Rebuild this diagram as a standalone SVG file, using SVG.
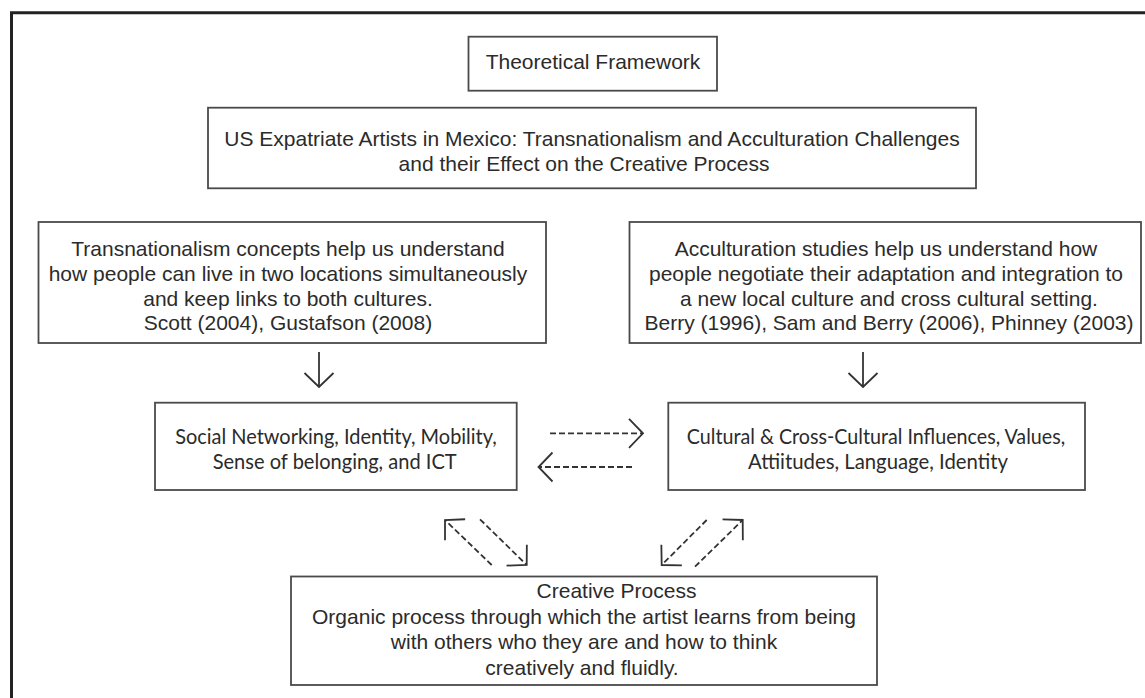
<svg xmlns="http://www.w3.org/2000/svg" width="1145" height="698" viewBox="0 0 1145 698">
  <style>
    .box { fill: #ffffff; stroke: #4a4a4a; stroke-width: 1.8; }
    .t { font-family: "Liberation Sans", Arial, sans-serif; font-size: 21px; fill: #2b2b2b; text-anchor: middle; }
    .m { font-family: Lato, "Open Sans", sans-serif; font-size: 20.5px; fill: #2b2b2b; text-anchor: middle; }
    .solid { fill: none; stroke: #333333; stroke-width: 1.8; marker-end: url(#chev); }
    .dash { fill: none; stroke: #333333; stroke-width: 1.8; stroke-dasharray: 6 3; marker-end: url(#chev); }
    .frame { fill: none; stroke: #222222; stroke-width: 3; }
  </style>
  <defs>
    <marker id="chev" markerUnits="userSpaceOnUse" viewBox="0 0 18 32" refX="15" refY="16" markerWidth="18" markerHeight="32" orient="auto">
      <path d="M1,1.5 L15,16 L1,30.5" fill="none" stroke="#333333" stroke-width="1.8" stroke-dasharray="none"/>
    </marker>
  </defs>

  <rect width="1145" height="698" fill="#ffffff"/>
  <path class="frame" d="M11.5,710 V12.7 H1160"/>

  <g id="title">
    <rect class="box" x="468.5" y="36.7" width="248.5" height="54"/>
    <text class="t" x="593" y="69">Theoretical Framework</text>
  </g>

  <g id="subtitle">
    <rect class="box" x="208" y="107.7" width="768" height="80.6"/>
    <text class="t" x="592" y="146">US Expatriate Artists in Mexico: Transnationalism and Acculturation Challenges</text>
    <text class="t" x="584" y="171">and their Effect on the Creative Process</text>
  </g>

  <g id="transnationalism">
    <rect class="box" x="38.5" y="222" width="507.5" height="121"/>
    <text class="t" x="288" y="256">Transnationalism concepts help us understand</text>
    <text class="t" x="288" y="281">how people can live in two locations simultaneously</text>
    <text class="t" x="288" y="305.5">and keep links to both cultures.</text>
    <text class="t" x="288" y="330">Scott (2004), Gustafson (2008)</text>
  </g>

  <g id="acculturation">
    <rect class="box" x="629.5" y="222" width="511.5" height="121"/>
    <text class="t" x="886" y="256">Acculturation studies help us understand how</text>
    <text class="t" x="886" y="281">people negotiate their adaptation and integration to</text>
    <text class="t" x="889" y="305.5">a new local culture and cross cultural setting.</text>
    <text class="t" x="889" y="330">Berry (1996), Sam and Berry (2006), Phinney (2003)</text>
  </g>

  <g id="social">
    <rect class="box" x="155" y="402.7" width="361.7" height="87.3"/>
    <text class="m" x="336" y="443.5" textLength="321.7" lengthAdjust="spacingAndGlyphs">Social Networking, Identity, Mobility,</text>
    <text class="m" x="334.7" y="468.5" textLength="244" lengthAdjust="spacingAndGlyphs">Sense of belonging, and ICT</text>
  </g>

  <g id="cultural">
    <rect class="box" x="668.3" y="402.7" width="416.7" height="87.3"/>
    <text class="m" x="876" y="443.5" textLength="378.3" lengthAdjust="spacingAndGlyphs">Cultural &amp; Cross-Cultural Influences, Values,</text>
    <text class="m" x="878" y="468.5" textLength="260" lengthAdjust="spacingAndGlyphs">Attiitudes, Language, Identity</text>
  </g>

  <g id="creative">
    <rect class="box" x="291" y="576.5" width="586" height="108.5"/>
    <text class="t" x="616.5" y="598">Creative Process</text>
    <text class="t" x="584" y="623.5">Organic process through which the artist learns from being</text>
    <text class="t" x="584" y="649">with others who they are and how to think</text>
    <text class="t" x="582" y="674.5">creatively and fluidly.</text>
  </g>

  <g id="connectors">
    <path class="solid" d="M319,352 L319,387"/>
    <path class="solid" d="M863,352 L863,387"/>
    <path class="dash" d="M550,433.3 L643,433.3"/>
    <path class="dash" d="M632,467 L538.5,467"/>
    <path class="dash" d="M491.7,565 L445,520"/>
    <path class="dash" d="M480,519.3 L526.7,565"/>
    <path class="dash" d="M706.7,520 L661.7,565"/>
    <path class="dash" d="M695,566.7 L742.7,520"/>
  </g>
</svg>
